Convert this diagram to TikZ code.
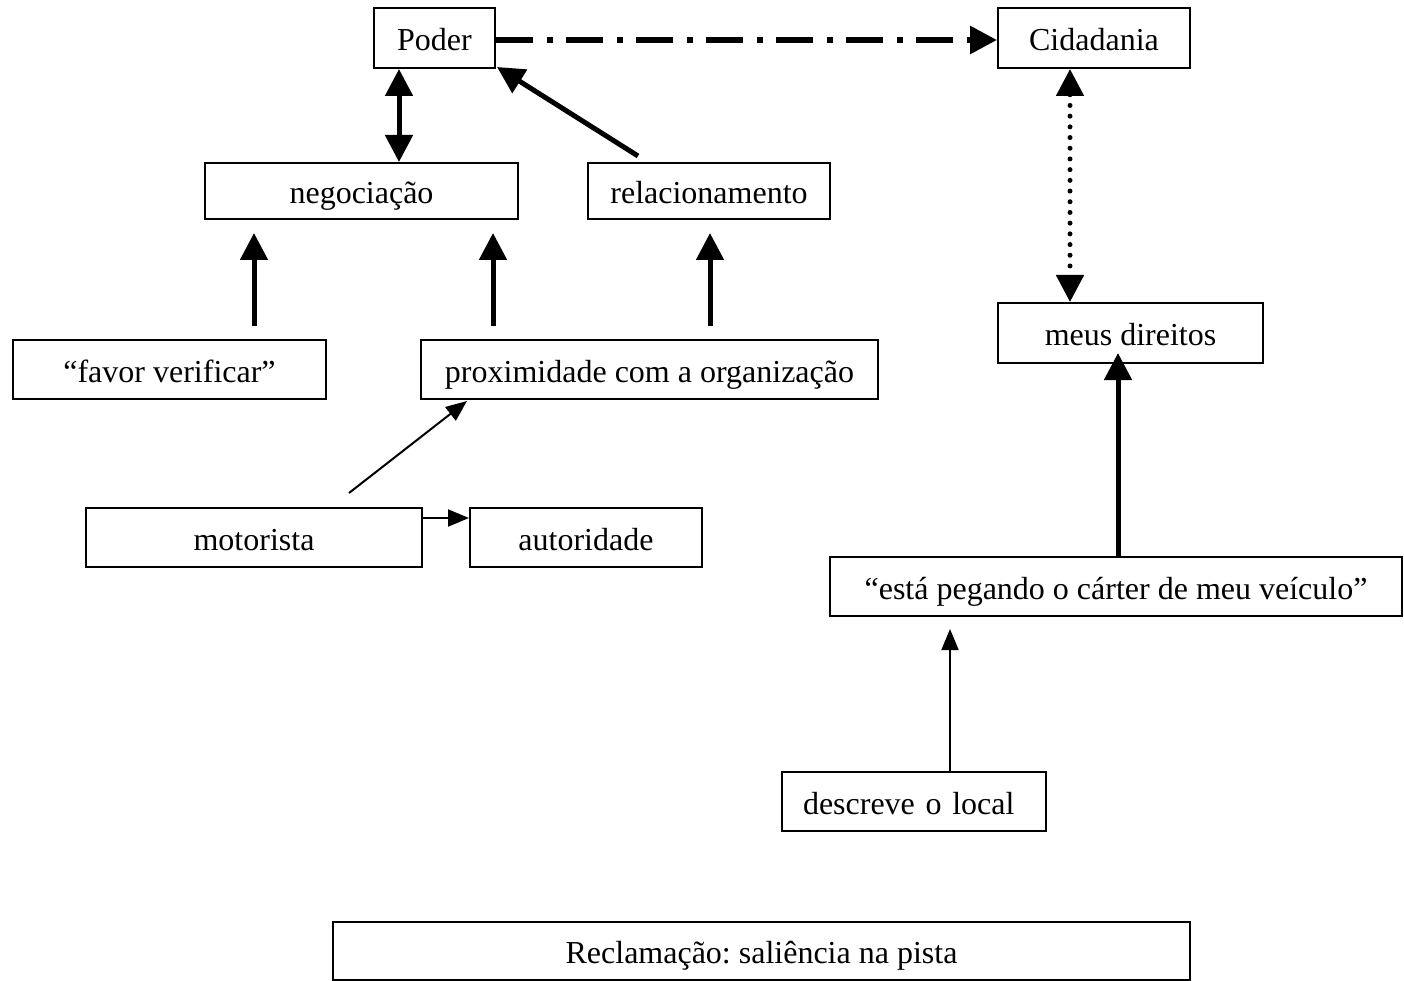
\documentclass[tikz,border=0pt]{standalone}
\usepackage{fontspec}
\setmainfont{Liberation Serif}
\frenchspacing
\usetikzlibrary{arrows.meta}
\begin{document}
\begin{tikzpicture}[x=1pt, y=-1pt,
  box/.style={draw, line width=2pt, inner sep=0pt, text height=28.5pt, text depth=3pt,
              font=\fontsize{32}{37}\selectfont},
  bigtip/.tip={Triangle[length=27pt, width=27pt]},
  smalltip/.tip={Triangle[length=21pt, width=17pt]},
  heavy/.style={line width=5pt, -bigtip},
  light/.style={line width=2pt, -smalltip},
  dotline/.style={line width=5pt, dash pattern=on 0pt off 10.7pt, line cap=round, bigtip-bigtip},
  dashdotline/.style={line width=6pt, dash pattern=on 37pt off 14pt on 6pt off 13pt, -bigtip}]
\useasboundingbox (0,0) rectangle (1404,981);

% concept boxes
\node[box, minimum width=121pt, minimum height=60pt] (poder) at (434.5,38) {Poder};
\node[box, minimum width=192pt, minimum height=60pt] (cid) at (1094,38) {Cidadania};
\node[box, minimum width=313pt, minimum height=56pt] (neg) at (361.5,191) {negociação};
\node[box, minimum width=242pt, minimum height=56pt] (rel) at (709,191) {relacionamento};
\node[box, minimum width=313pt, minimum height=59pt] (fav) at (169.5,369.5) {“favor verificar”};
\node[box, minimum width=457pt, minimum height=59pt] (prox) at (649.5,369.5) {proximidade com a organização};
\node[box, minimum width=265pt, minimum height=60pt] (dir) at (1130.5,333) {meus direitos};
\node[box, minimum width=336pt, minimum height=59pt] (mot) at (254,537.5) {motorista};
\node[box, minimum width=232pt, minimum height=59pt] (aut) at (586,537.5) {autoridade};
\node[box, minimum width=572pt, minimum height=59pt] (esta) at (1116,586.5) {“está pegando o cárter de meu veículo”};
\node[box, minimum height=59pt, inner xsep=21pt, text width=222pt, align=left] (desc) at (914,801.5) {descreve o local};
\node[box, minimum width=857pt, minimum height=58pt] (recl) at (761.5,951) {Reclamação: saliência na pista};

% connectors
\draw[line width=5pt, bigtip-bigtip] ([xshift=-35.5pt]poder.south) -- ([xshift=-35.5pt]poder.south |- neg.north);
\draw[heavy] ([xshift=-71pt, yshift=6pt]rel.north) -- ([xshift=1pt, yshift=2pt]poder.south east);
\draw[dashdotline] ([yshift=-2pt]poder.east) -- ([yshift=-2pt]poder.east -| cid.west);
\draw[heavy] ([xshift=84.5pt, yshift=13pt]fav.north) -- ([xshift=84.5pt, yshift=-13pt]fav.north |- neg.south);
\draw[heavy] ([xshift=-156.5pt, yshift=13pt]prox.north) -- ([xshift=-156.5pt, yshift=-13pt]prox.north |- neg.south);
\draw[heavy] ([xshift=60.5pt, yshift=13pt]prox.north) -- ([xshift=60.5pt, yshift=-13pt]prox.north |- rel.south);
\draw[light] ([xshift=95pt, yshift=14pt]mot.north) -- ([xshift=-182.5pt, yshift=-1pt]prox.south);
\draw[light] ([yshift=19.5pt]mot.east) -- ([yshift=19.5pt]mot.east -| aut.west);
\draw[dotline] ([xshift=-24pt]cid.south) -- ([xshift=-24pt]cid.south |- dir.north);
\draw[heavy] ([xshift=2pt]esta.north) -- ([xshift=2pt, yshift=11pt]esta.north |- dir.south);
\draw[light] ([xshift=36pt]desc.north) -- ([xshift=36pt, yshift=-12pt]desc.north |- esta.south);
\end{tikzpicture}
\end{document}
